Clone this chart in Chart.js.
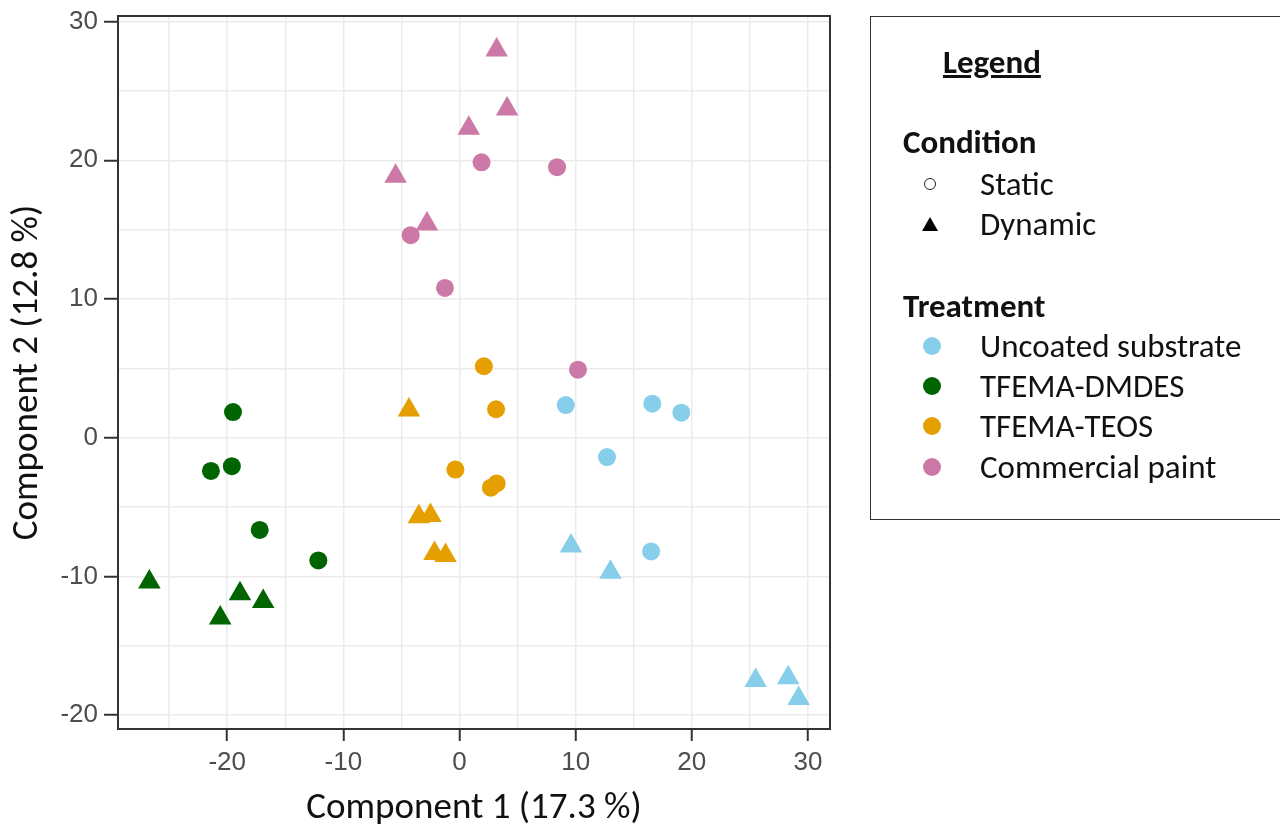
<!DOCTYPE html>
<html>
<head>
<meta charset="utf-8">
<script src="https://cdn.jsdelivr.net/npm/chart.js@4"></script>
<style>
  body { margin: 0; background: #fff; width: 1280px; height: 828px; overflow: hidden; position: relative; }
  #legendBox { position: absolute; left: 870px; top: 16px; width: 440px; height: 504px; border: 1.5px solid #333; box-sizing: border-box; }
  .lg { position: absolute; font-family: 'Carlito', 'Open Sans', sans-serif; font-size: 33px; line-height: 36px; height: 36px; color: #111; white-space: nowrap; }
  .lg.b { font-weight: bold; }
  .mk { position: absolute; }
</style>
</head>
<body>
<canvas id="myChart" width="1280" height="828"></canvas>
<div id="legendBox"></div>
<div id="legend"></div>
<script>
// treatment groups, [component 1, component 2] per sample
const treatments = ['Uncoated substrate', 'TFEMA-DMDES', 'TFEMA-TEOS', 'Commercial paint'];
const treatmentColors = ['#87CEEB', '#006400', '#E69F00', '#CC79A7'];
const conditions = ['Static', 'Dynamic'];

const uncoatedStatic = [[9.15, 2.35], [16.6, 2.45], [19.1, 1.8], [12.7, -1.4], [16.5, -8.2]];
const uncoatedDynamic = [[9.6, -7.8], [13.0, -9.7], [25.5, -17.5], [28.3, -17.3], [29.2, -18.8]];
const dmdesStatic = [[-19.5, 1.85], [-21.4, -2.4], [-19.6, -2.05], [-17.2, -6.65], [-12.15, -8.85]];
const dmdesDynamic = [[-26.7, -10.4], [-18.9, -11.25], [-16.9, -11.8], [-20.6, -13.0]];
const teosStatic = [[2.1, 5.15], [3.15, 2.05], [-0.35, -2.3], [2.7, -3.6], [3.2, -3.3]];
const teosDynamic = [[-4.35, 2.0], [-3.5, -5.7], [-2.5, -5.6], [-2.15, -8.35], [-1.2, -8.5]];
const paintStatic = [[1.9, 19.85], [8.4, 19.5], [-4.2, 14.6], [-1.25, 10.8], [10.2, 4.9]];
const paintDynamic = [[3.2, 27.95], [4.1, 23.7], [0.8, 22.3], [-5.5, 18.85], [-2.8, 15.4]];

const xLabel = 'Component 1 (17.3 %)';
const yLabel = 'Component 2 (12.8 %)';
const xRange = [-29.4, 31.9];
const yRange = [-21.0, 30.4];

const groups = [
  [uncoatedStatic, uncoatedDynamic],
  [dmdesStatic, dmdesDynamic],
  [teosStatic, teosDynamic],
  [paintStatic, paintDynamic]
];

function makeDatasets() {
  let sets = [];
  groups.forEach((g, i) => {
    g.forEach((pts, c) => {
      sets.push({
        label: treatments[i] + ' - ' + conditions[c],
        data: pts.map(p => ({x: p[0], y: p[1]})),
        pointStyle: c === 0 ? 'circle' : 'triangle',
        pointRadius: c === 0 ? 9 : 13,
        pointHoverRadius: c === 0 ? 9 : 13,
        backgroundColor: treatmentColors[i],
        borderWidth: 0
      });
    });
  });
  return sets;
}

const tickFont = {family: "'Liberation Sans', Arial, sans-serif", size: 26};
const titleFont = {family: "'Carlito', 'Open Sans', sans-serif", size: 37, lineHeight: 1};

function majorOnly(v) { return v % 10 === 0 ? v : ''; }
function tickCol(ctx) { return (ctx.tick && ctx.tick.value % 10 === 0) ? '#333' : 'rgba(0,0,0,0)'; }

const frame = {
  id: 'frame',
  afterDraw(chart) {
    const a = chart.chartArea, ctx = chart.ctx;
    ctx.save();
    ctx.strokeStyle = '#333';
    ctx.lineWidth = 2;
    ctx.strokeRect(a.left, a.top, a.right - a.left, a.bottom - a.top);
    ctx.restore();
  }
};

function drawChart() {
  const ctx = document.getElementById('myChart').getContext('2d');
  new Chart(ctx, {
    type: 'scatter',
    data: {datasets: makeDatasets()},
    options: {
      responsive: false,
      animation: false,
      devicePixelRatio: 1,
      layout: {padding: {top: 16, right: 450, left: 0, bottom: 0}},
      plugins: {legend: {display: false}, tooltip: {enabled: false}},
      scales: {
        x: {
          type: 'linear', min: xRange[0], max: xRange[1],
          afterFit: s => { s.height = 99; s.paddingLeft = 0; s.paddingRight = 0; },
          ticks: {stepSize: 5, includeBounds: false, autoSkip: false, maxRotation: 0, callback: majorOnly, font: tickFont, color: '#4d4d4d', padding: 6},
          grid: {color: '#ebebeb', lineWidth: 1.5, tickLength: 12, tickColor: tickCol, tickWidth: 2},
          border: {color: '#111', width: 2},
          title: {display: true, text: xLabel, font: titleFont, color: '#111', padding: {top: 0, bottom: 1}}
        },
        y: {
          type: 'linear', min: yRange[0], max: yRange[1],
          afterFit: s => { s.width = 118; s.paddingTop = 0; s.paddingBottom = 0; },
          ticks: {stepSize: 5, includeBounds: false, autoSkip: false, callback: majorOnly, font: tickFont, color: '#4d4d4d', padding: 6},
          grid: {color: '#ebebeb', lineWidth: 1.5, tickLength: 14, tickColor: tickCol, tickWidth: 2},
          border: {color: '#111', width: 2},
          title: {display: true, text: yLabel, font: titleFont, color: '#111', padding: {top: 9, bottom: 0}}
        }
      }
    },
    plugins: [frame]
  });
}

function addText(txt, left, cy, bold, underline) {
  let d = document.createElement('div');
  d.className = 'lg' + (bold ? ' b' : '');
  d.innerText = txt;
  d.style.left = left + 'px';
  d.style.top = (cy - 18) + 'px';
  if (underline) d.style.textDecoration = 'underline';
  document.getElementById('legend').appendChild(d);
}

function addMark(cx, cy, style) {
  let m = document.createElement('div');
  m.className = 'mk';
  if (style.type === 'ring') {
    Object.assign(m.style, {left: (cx - 6) + 'px', top: (cy - 6) + 'px', width: '12px', height: '12px', borderRadius: '50%', border: '1.5px solid #222', boxSizing: 'border-box'});
  } else if (style.type === 'tri') {
    Object.assign(m.style, {left: (cx - 8) + 'px', top: (cy - 7) + 'px', width: 0, height: 0, borderLeft: '8px solid transparent', borderRight: '8px solid transparent', borderBottom: '14px solid #000'});
  } else {
    Object.assign(m.style, {left: (cx - 9) + 'px', top: (cy - 9) + 'px', width: '18px', height: '18px', borderRadius: '50%', background: style.color});
  }
  document.getElementById('legend').appendChild(m);
}

function drawLegend() {
  addText('Legend', 943, 62, true, true);
  addText('Condition', 903, 142, true);
  addMark(930, 184, {type: 'ring'});
  addText(conditions[0], 980, 184);
  addMark(930, 224, {type: 'tri'});
  addText(conditions[1], 980, 224);
  addText('Treatment', 903, 306, true);
  const rows = [346, 386, 426, 467];
  treatments.forEach((t, i) => {
    addMark(932, rows[i], {type: 'dot', color: treatmentColors[i]});
    addText(t, 980, rows[i]);
  });
}

drawChart();
drawLegend();
</script>
</body>
</html>
